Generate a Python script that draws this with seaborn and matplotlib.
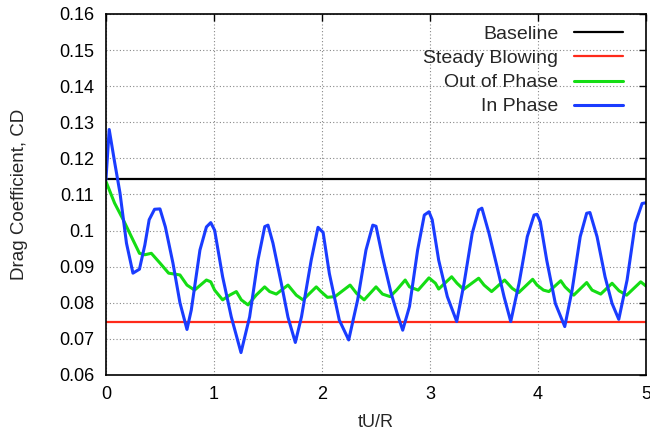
import matplotlib
matplotlib.use("Agg")
import matplotlib.pyplot as plt
import seaborn as sns
import numpy as np

# Drag coefficient histories (tU/R vs CD)
baseline_cd = 0.1143
steady_cd = 0.0747

in_phase_t = [0.00, 0.03, 0.08, 0.13, 0.19, 0.25, 0.31, 0.36, 0.40, 0.45, 0.50, 0.55,
              0.62, 0.685, 0.75, 0.79, 0.87, 0.93, 0.97, 1.006, 1.08, 1.16, 1.25, 1.33,
              1.407, 1.47, 1.50, 1.546, 1.623, 1.685, 1.753, 1.81, 1.90, 1.963, 2.01,
              2.068, 2.16, 2.247, 2.33, 2.407, 2.47, 2.50, 2.56, 2.64, 2.70, 2.747, 2.81,
              2.885, 2.947, 2.99, 3.02, 3.08, 3.16, 3.247, 3.315, 3.39, 3.45, 3.48, 3.546,
              3.62, 3.685, 3.747, 3.824, 3.90, 3.963, 3.99, 4.02, 4.08, 4.16, 4.247, 4.315,
              4.39, 4.45, 4.48, 4.546, 4.62, 4.685, 4.747, 4.824, 4.90, 4.963, 5.00]
in_phase_cd = [0.1141, 0.1280, 0.1190, 0.1104, 0.0965, 0.0882, 0.0893, 0.0960, 0.1030,
               0.1059, 0.1060, 0.1010, 0.0910, 0.0800, 0.0726, 0.0780, 0.0946, 0.1010,
               0.1022, 0.1001, 0.0872, 0.0761, 0.0662, 0.0761, 0.0918, 0.1011, 0.1015,
               0.0965, 0.0854, 0.0760, 0.0690, 0.0761, 0.0918, 0.1009, 0.0995, 0.0881,
               0.0752, 0.0697, 0.0808, 0.0946, 0.1015, 0.1012, 0.0927, 0.0826, 0.0766,
               0.0724, 0.0790, 0.0946, 0.1043, 0.1052, 0.1030, 0.0918, 0.0817, 0.0748,
               0.0854, 0.0992, 0.1057, 0.1062, 0.0992, 0.0900, 0.0817, 0.0748, 0.0854,
               0.0983, 0.1043, 0.1045, 0.1025, 0.0918, 0.0798, 0.0734, 0.0835, 0.0983,
               0.1048, 0.1050, 0.0983, 0.0872, 0.0798, 0.0754, 0.0863, 0.1020, 0.1075,
               0.1077]

out_phase_t = [0.00, 0.08, 0.16, 0.25, 0.31, 0.36, 0.42, 0.50, 0.58, 0.685, 0.75, 0.82,
               0.93, 0.97, 1.006, 1.08, 1.145, 1.207, 1.253, 1.315, 1.39, 1.469, 1.515,
               1.577, 1.685, 1.762, 1.824, 1.947, 1.99, 2.05, 2.12, 2.26, 2.32, 2.39, 2.50,
               2.56, 2.63, 2.69, 2.77, 2.81, 2.89, 2.99, 3.05, 3.08, 3.20, 3.25, 3.31, 3.45,
               3.50, 3.57, 3.69, 3.76, 3.82, 3.95, 3.99, 4.05, 4.10, 4.21, 4.25, 4.33, 4.45,
               4.50, 4.58, 4.685, 4.75, 4.82, 4.95, 5.00]
out_phase_cd = [0.1136, 0.1076, 0.1030, 0.0974, 0.0937, 0.0933, 0.0937, 0.0910, 0.0882,
                0.0877, 0.0849, 0.0835, 0.0863, 0.0858, 0.0835, 0.0808, 0.0821, 0.0831,
                0.0808, 0.0794, 0.0821, 0.0844, 0.0831, 0.0824, 0.0849, 0.0821, 0.0808,
                0.0844, 0.0831, 0.0815, 0.0817, 0.0849, 0.0826, 0.0808, 0.0844, 0.0824,
                0.0817, 0.0835, 0.0863, 0.0844, 0.0835, 0.0869, 0.0854, 0.0838, 0.0872,
                0.0854, 0.0837, 0.0868, 0.0849, 0.0831, 0.0863, 0.0840, 0.0828, 0.0865,
                0.0849, 0.0835, 0.0831, 0.0861, 0.0844, 0.0821, 0.0856, 0.0835, 0.0824,
                0.0854, 0.0833, 0.0821, 0.0858, 0.0846]

t_range = [0.0, 5.0]
x_ticks = [0, 1, 2, 3, 4, 5]
y_ticks = [0.06, 0.07, 0.08, 0.09, 0.1, 0.11, 0.12, 0.13, 0.14, 0.15, 0.16]
y_tick_labels = ["0.06", "0.07", "0.08", "0.09", "0.1", "0.11", "0.12", "0.13",
                 "0.14", "0.15", "0.16"]

sns.set_style("white")
plt.rcParams["font.family"] = ["Liberation Sans", "DejaVu Sans"]
plt.rcParams["font.size"] = 13

fig = plt.figure(figsize=(6.5, 4.37), dpi=100)
ax = fig.add_axes([0.163, 0.142, 0.831, 0.826])

sns.lineplot(x=t_range, y=[baseline_cd, baseline_cd], ax=ax, color="#000000",
             linewidth=1.6, label="Baseline")
sns.lineplot(x=t_range, y=[steady_cd, steady_cd], ax=ax, color="#ff2a1a",
             linewidth=1.6, label="Steady Blowing")
sns.lineplot(x=out_phase_t, y=out_phase_cd, ax=ax, color="#14dd14",
             linewidth=2.2, label="Out of Phase", sort=False)
sns.lineplot(x=in_phase_t, y=in_phase_cd, ax=ax, color="#1a3cff",
             linewidth=2.2, label="In Phase", sort=False)

ax.set_xlim(0, 5)
ax.set_ylim(0.06, 0.16)
ax.set_xticks(x_ticks)
ax.set_yticks(y_ticks)
ax.set_yticklabels(y_tick_labels)
ax.grid(True, color="#888888", linestyle=(0, (1, 2)), linewidth=0.8)
ax.tick_params(direction="in", length=5, width=1, top=True, right=True,
               labelsize=13, colors="black")
ax.tick_params(axis="y", pad=8.5)
ax.tick_params(axis="x", pad=8)
for s in ax.spines.values():
    s.set_color("black")
    s.set_linewidth(1.2)

ax.set_xlabel("tU/R", fontsize=13, labelpad=8)
ax.set_ylabel("Drag Coefficient, CD", fontsize=13.5, labelpad=22)

ax.legend(loc="upper right", frameon=False, markerfirst=False, fontsize=14,
          handlelength=2.5, labelspacing=0.33, borderaxespad=0.2,
          bbox_to_anchor=(0.978, 1.0))

fig.savefig("out.png", dpi=100)
